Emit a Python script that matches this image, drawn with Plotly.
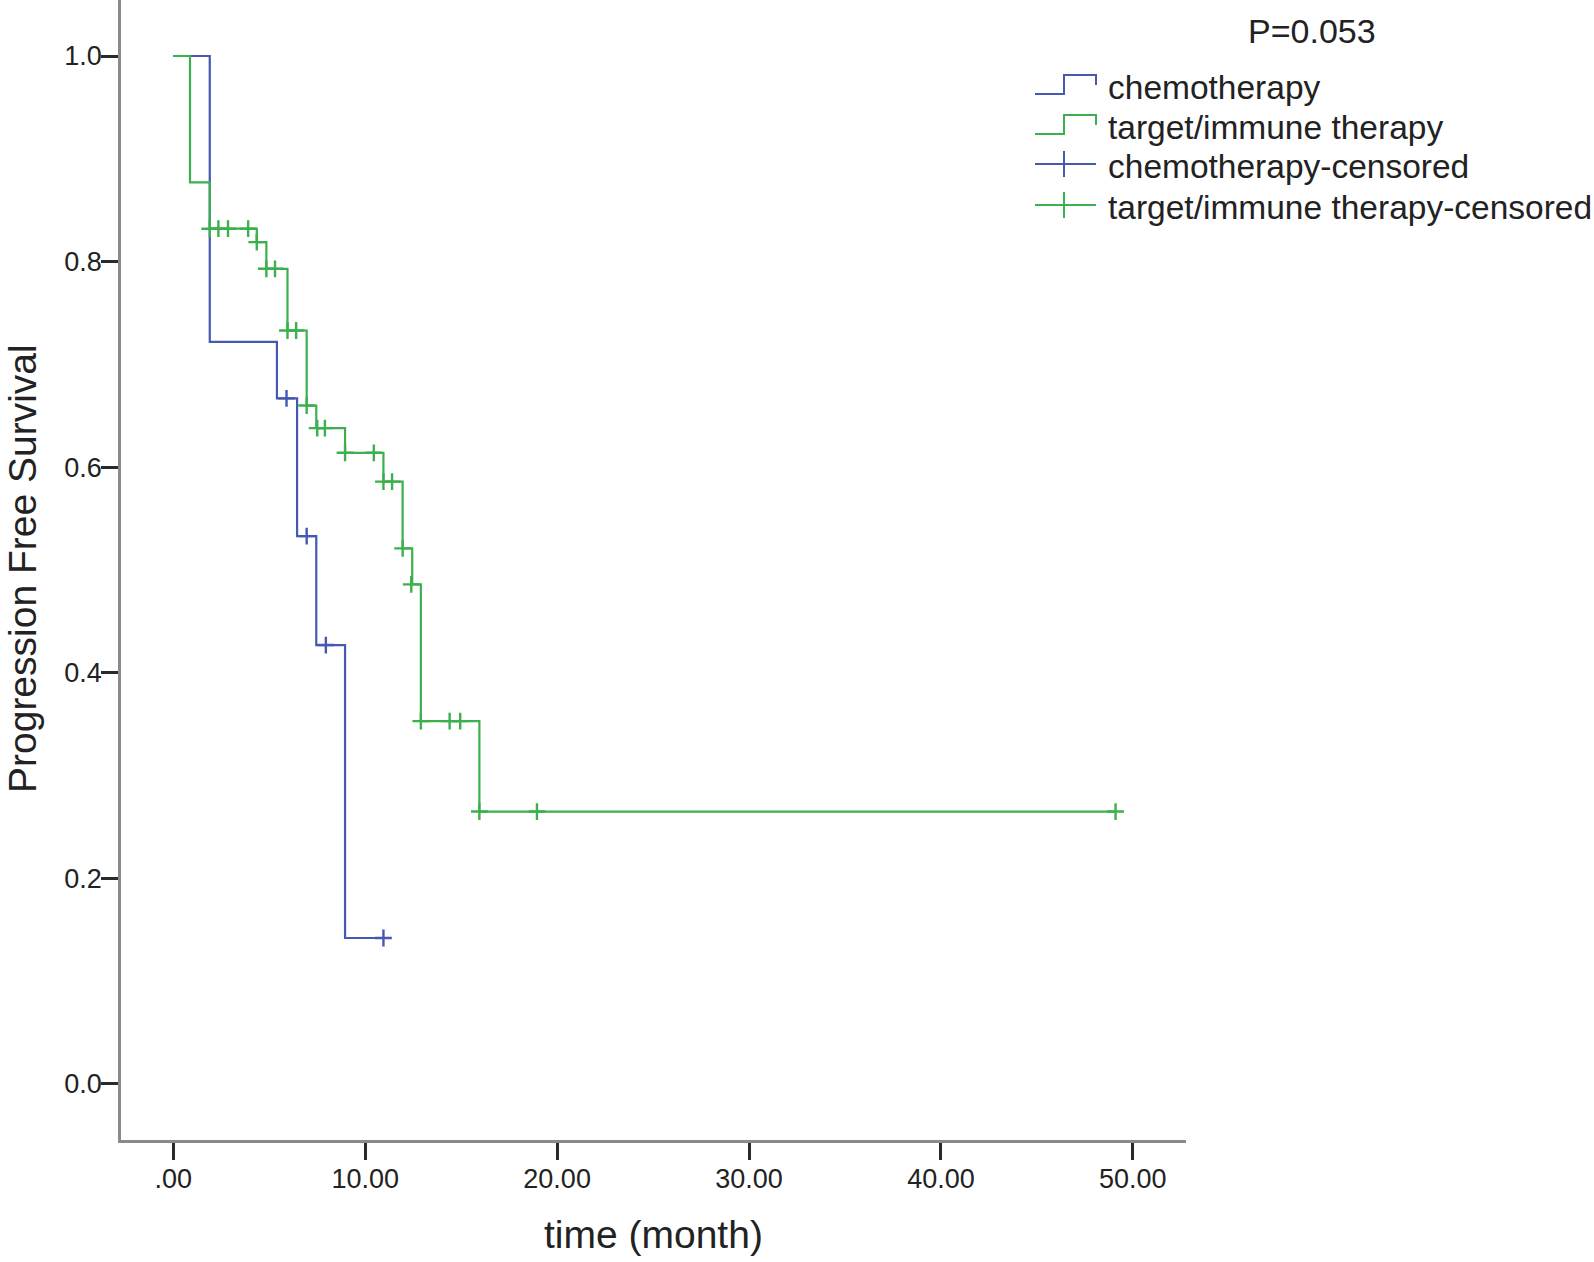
import plotly.graph_objects as go

# ---------------- data ----------------
chemo_time = [0, 1.9, 5.4, 6.45, 7.45, 8.95, 10.95]
chemo_surv = [1.0, 0.722, 0.667, 0.533, 0.427, 0.142, 0.142]
chemo_cens_time = [5.9, 6.95, 7.95, 10.95]
chemo_cens_surv = [0.667, 0.533, 0.427, 0.142]

targ_time = [0, 0.87, 1.9, 4.35, 4.85, 5.95, 6.95, 7.45, 8.95, 10.95, 11.95,
             12.45, 12.9, 15.95, 49.1]
targ_surv = [1.0, 0.877, 0.832, 0.819, 0.793, 0.733, 0.660, 0.638, 0.614,
             0.586, 0.521, 0.486, 0.353, 0.265, 0.265]
targ_cens_time = [1.9, 2.35, 2.85, 3.9, 4.35, 4.85, 5.3, 5.95, 6.4, 6.95, 7.5,
                  7.9, 8.95, 10.45, 10.95, 11.4, 11.95, 12.4, 12.9, 14.4,
                  14.95, 15.95, 18.95, 49.1]
targ_cens_surv = [0.832, 0.832, 0.832, 0.832, 0.819, 0.793, 0.793, 0.733,
                  0.733, 0.660, 0.638, 0.638, 0.614, 0.614, 0.586, 0.586,
                  0.521, 0.486, 0.353, 0.353, 0.353, 0.265, 0.265, 0.265]

x_tickvals = [0, 10, 20, 30, 40, 50]
x_ticktext = [".00", "10.00", "20.00", "30.00", "40.00", "50.00"]
y_tickvals = [0, 0.2, 0.4, 0.6, 0.8, 1.0]
y_ticktext = ["0.0", "0.2", "0.4", "0.6", "0.8", "1.0"]

group_names = ["chemotherapy", "target/immune therapy",
               "chemotherapy-censored", "target/immune therapy-censored"]
p_text = "P=0.053"

# ---------------- styling ----------------
BLUE = "#4658b0"
GREEN = "#3cb04e"
FONT = "Liberation Sans, Arial, sans-serif"
W, H = 1594, 1262
L, R, T, B = 121, 408, 0, 122
PX0, PX1, PY0, PY1 = L, W - R, T, H - B  # plot area in pixels


def px(xp):
    return (xp - PX0) / (PX1 - PX0)


def py(yp):
    return (PY1 - yp) / (PY1 - PY0)


fig = go.Figure()
fig.add_trace(go.Scatter(x=chemo_time, y=chemo_surv, mode="lines",
                         line=dict(color=BLUE, width=2.2, shape="hv"),
                         name=group_names[0], showlegend=False))
fig.add_trace(go.Scatter(x=targ_time, y=targ_surv, mode="lines",
                         line=dict(color=GREEN, width=2.2, shape="hv"),
                         name=group_names[1], showlegend=False))
fig.add_trace(go.Scatter(x=chemo_cens_time, y=chemo_cens_surv, mode="markers",
                         marker=dict(symbol="cross-thin", size=12,
                                     line=dict(color=BLUE, width=2.4)),
                         name=group_names[2], showlegend=False))
fig.add_trace(go.Scatter(x=targ_cens_time, y=targ_cens_surv, mode="markers",
                         marker=dict(symbol="cross-thin", size=12,
                                     line=dict(color=GREEN, width=2.4)),
                         name=group_names[3], showlegend=False))

axis_common = dict(showgrid=False, zeroline=False, showline=True,
                   linecolor="#8a8a8a", linewidth=2.5, ticks="outside",
                   ticklen=17, tickwidth=2.5, tickcolor="#2a2a2a",
                   tickfont=dict(family=FONT, size=27, color="#222222"))

fig.update_layout(
    width=W, height=H,
    margin=dict(l=L, r=R, t=T, b=B, pad=0),
    plot_bgcolor="white", paper_bgcolor="white",
    xaxis=dict(range=[-2.725, 52.77], tickvals=x_tickvals,
               ticktext=x_ticktext, ticklabelstandoff=-4, **axis_common),
    yaxis=dict(range=[-0.0545, 1.0545], tickvals=y_tickvals,
               ticktext=y_ticktext, ticklabelstandoff=-6, **axis_common),
    showlegend=False,
)

# axis titles
fig.add_annotation(text="time (month)", xref="paper", yref="paper",
                   x=px(653), y=py(1234), xanchor="center", yanchor="middle",
                   showarrow=False,
                   font=dict(family=FONT, size=39, color="#222222"))
fig.add_annotation(text="Progression Free Survival", xref="paper",
                   yref="paper", x=px(22), y=py(569), textangle=-90,
                   xanchor="center", yanchor="middle", showarrow=False,
                   font=dict(family=FONT, size=39, color="#222222"))

# P value
fig.add_annotation(text=p_text, xref="paper", yref="paper",
                   x=px(1312), y=py(31), xanchor="center", yanchor="middle",
                   showarrow=False,
                   font=dict(family=FONT, size=34, color="#222222"))

# custom legend (SPSS style)
row_y = [87, 127, 166, 207]
colors = [BLUE, GREEN, BLUE, GREEN]
x_a, x_m, x_b = 1035, 1064, 1096
for i, (name, col, yc) in enumerate(zip(group_names, colors, row_y)):
    if i < 2:
        lo, hi, mid = yc + 7, yc - 12, yc - 2
        path = (f"M {px(x_a)},{py(lo)} L {px(x_m)},{py(lo)} L {px(x_m)},{py(hi)} "
                f"L {px(x_b)},{py(hi)} L {px(x_b)},{py(mid)}")
        fig.add_shape(type="path", path=path, xref="paper", yref="paper",
                      line=dict(color=col, width=2))
    else:
        yy = yc - 2
        fig.add_shape(type="line", xref="paper", yref="paper",
                      x0=px(x_a), x1=px(x_b), y0=py(yy), y1=py(yy),
                      line=dict(color=col, width=2))
        fig.add_shape(type="line", xref="paper", yref="paper",
                      x0=px(x_m), x1=px(x_m), y0=py(yy - 13), y1=py(yy + 13),
                      line=dict(color=col, width=2))
    fig.add_annotation(text=name, xref="paper", yref="paper",
                       x=px(1106), y=py(yc), xanchor="left", yanchor="middle",
                       showarrow=False,
                       font=dict(family=FONT, size=33.5, color="#222222"))

fig.write_html("out.html", config={"displayModeBar": False},
               post_script="document.body.style.margin='0';"
                           "document.body.style.overflow='hidden';")
